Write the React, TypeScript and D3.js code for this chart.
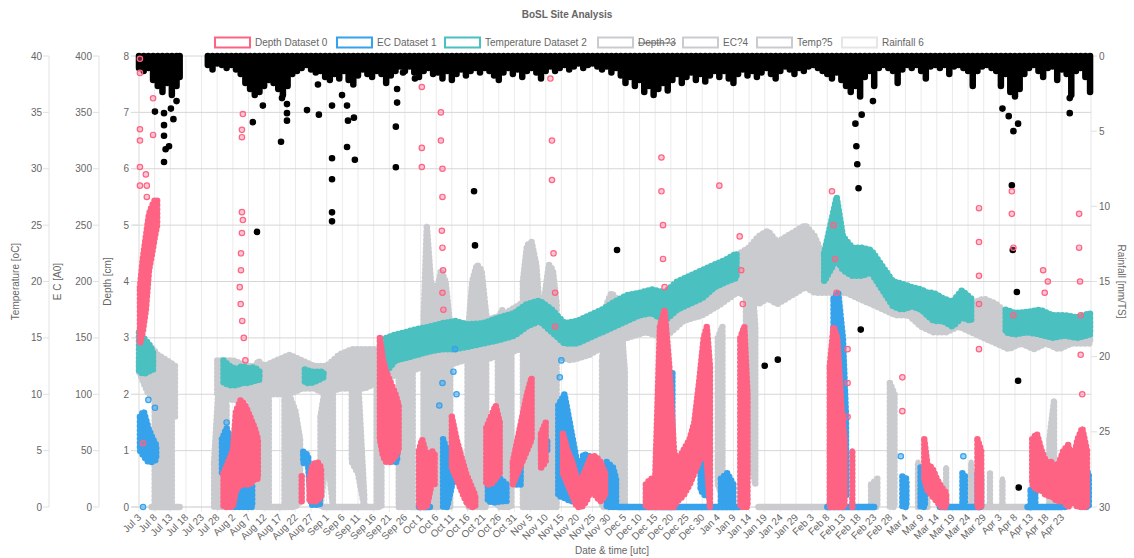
import React from "react";
import * as d3 from "d3";

// ---------- layout ----------
const W = 1134, H = 558;
const L = 139, R = 1091, T = 56, B = 507;
const DAY_MAX = 304.3;
const FONT = "Liberation Sans, Arial, Helvetica, sans-serif";

// ---------- labels ----------
const TITLE = "BoSL Site Analysis";
const X_TITLE = "Date & time [utc]";
const TICK_STEP_DAYS = 5;
const TICK_LABELS = [
  "Jul 3", "Jul 8", "Jul 13", "Jul 18", "Jul 23", "Jul 28",
  "Aug 2", "Aug 7", "Aug 12", "Aug 17", "Aug 22", "Aug 27",
  "Sep 1", "Sep 6", "Sep 11", "Sep 16", "Sep 21", "Sep 26",
  "Oct 1", "Oct 6", "Oct 11", "Oct 16", "Oct 21", "Oct 26", "Oct 31",
  "Nov 5", "Nov 10", "Nov 15", "Nov 20", "Nov 25", "Nov 30",
  "Dec 5", "Dec 10", "Dec 15", "Dec 20", "Dec 25", "Dec 30",
  "Jan 4", "Jan 9", "Jan 14", "Jan 19", "Jan 24", "Jan 29",
  "Feb 3", "Feb 8", "Feb 13", "Feb 18", "Feb 23", "Feb 28",
  "Mar 4", "Mar 9", "Mar 14", "Mar 19", "Mar 24", "Mar 29",
  "Apr 3", "Apr 8", "Apr 13", "Apr 18", "Apr 23",
];
const TEMP_TICKS = [0, 5, 10, 15, 20, 25, 30, 35, 40];
const EC_TICKS = [0, 50, 100, 150, 200, 250, 300, 350, 400];
const DEPTH_TICKS = [0, 1, 2, 3, 4, 5, 6, 7, 8];
const RAIN_TICKS = [0, 5, 10, 15, 20, 25, 30];

const LEGEND_LABELS = ["Depth Dataset 0", "EC Dataset 1", "Temperature Dataset 2", "Depth?3", "EC?4", "Temp?5", "Rainfall 6"];
const LEGEND_COLORS = ["#ff6384", "#36a2eb", "#4bc0c0", "#c9cbcf", "#c9cbcf", "#c9cbcf", "#e6e6e6"];
const LEGEND_HIDDEN = [false, false, false, true, false, false, false];
const LEGEND_X = [215, 337, 445, 598, 683, 757, 842];

// ---------- data (day offset from Jul 3, value) ----------
// Temperature Dataset 2 (degC) band: [day, low, high]
const TEMP_BAND: [number, number, number][] = [
  [0, 12, 15.5], [1.5, 11.8, 15], [3, 12, 14.5], [4.5, 12.2, 13.8],
  [27, 11, 13], [29, 10.8, 12.5], [31, 10.8, 12.2], [33, 11, 12.5], [35, 11, 12.3], [37, 11.2, 12.4], [38.5, 11.3, 12],
  [53, 11, 12.2], [55, 11, 12], [57, 11.2, 12], [59, 11.5, 12],
  [79, 12, 15], [82, 13, 15.3], [85, 13.2, 15.5], [89, 13.5, 15.8], [93, 13.8, 16], [97, 14, 16.3], [101, 14, 16.5],
  [105, 14.2, 16.2], [110, 14.5, 16.3], [115, 14.8, 16.8], [120, 15.2, 17.2], [124, 16, 18], [128, 16.5, 18.3],
  [132, 15.5, 17.5], [136, 14.5, 16.3], [140, 14.5, 16.5], [144, 15, 17], [148, 15.5, 17.5], [152, 16, 18.2],
  [156, 16.5, 18.8], [160, 17, 19], [164, 17.2, 19.3], [168, 16.5, 19], [172, 17.5, 20], [176, 18, 20.5],
  [180, 18.5, 21], [184, 19.5, 21.5], [188, 20, 22], [191, 20.3, 22.5],
  [219, 20, 22.5], [221, 21, 25], [223, 22, 27.5], [225, 21, 24], [228, 20.5, 23], [231, 20.5, 23], [234, 20.8, 22.8],
  [241, 17.8, 20], [244, 17.5, 19.8], [247, 17.8, 19.5], [250, 17.5, 19.3], [252, 17, 19],
  [254, 16.5, 19], [257, 16.5, 18.5], [260, 16, 18.2], [263, 16.8, 19.2], [266, 16.5, 18.5],
  [277, 15.5, 17.5], [280, 15.3, 17.2], [284, 15.5, 17.3], [288, 15.3, 17.5], [292, 15, 17], [296, 15.2, 17],
  [300, 15, 16.8], [304, 15.3, 17.2],
];

// Temp?5 (degC) band: [day, low, high]
const TEMP5_BAND: [number, number, number][] = [
  [0, 12, 13], [3, 10, 14.5], [6, 9.5, 13.5], [9, 8.5, 13], [11.5, 8, 12.5],
  [25, 10, 13], [30, 9.5, 13], [35, 9.5, 12.5], [40, 10, 12.5], [44, 10, 13], [48, 10, 13.5], [52, 10.5, 13],
  [56, 10.5, 12.5], [60, 10, 12.5], [64, 10.5, 13.5], [68, 10.5, 14], [72, 10.5, 14], [76, 11, 14], [78, 11, 14],
  [80, 11.5, 14.5], [86, 12, 15], [92, 12.5, 15.5], [98, 12.5, 15.8], [104, 13, 16], [110, 13, 16.5], [116, 13.5, 17],
  [122, 14, 18], [127, 15, 18.5], [132, 13.5, 17], [138, 13, 16], [144, 13.5, 16.5], [150, 14.5, 17.5], [156, 15, 18.5],
  [162, 15.5, 19], [168, 15, 19], [174, 16.5, 20], [180, 17, 20.5], [186, 18, 21.5], [191, 19, 22],
  [192, 19, 22.5], [195, 18.5, 23], [198, 18, 24], [201, 18.5, 24.5], [204, 18, 23.5], [207, 18.5, 24], [210, 19, 24.5],
  [213, 19.5, 25], [216, 19, 24], [219, 19, 22], [222, 19, 22], [226, 19, 22.5], [230, 18.5, 21.5], [234, 18, 21],
  [238, 17.5, 20], [242, 17, 19.5], [246, 17, 19], [250, 16, 19], [254, 15.5, 18.5], [258, 15.5, 18], [262, 16, 18.5],
  [266, 15.5, 18], [270, 15, 18.5], [274, 14.5, 18], [278, 14, 17], [282, 14.5, 16.5], [286, 14, 16.5], [290, 14.5, 16.5],
  [294, 14, 16], [298, 14.5, 16], [302, 14.5, 16], [304, 14.5, 16.3],
];

// EC?4 (EC) columns: [day, low, high]
const EC4_COLS: [number, number, number][] = [
  [5, 0, 120], [7, 0, 125], [9, 0, 110], [10.5, 0, 105],
  [24, 0, 40], [25.5, 0, 110], [27, 0, 120], [28, 0, 90],
  [36, 0, 110], [38, 0, 130], [40, 0, 125], [41.5, 0, 100],
  [46.5, 0, 95], [48, 0, 100], [50, 0, 85], [51.5, 5, 60],
  [58, 0, 80], [60, 50, 115], [62, 0, 100], [68, 40, 110], [70, 30, 115], [72, 0, 10],
  [76, 0, 135], [77.5, 0, 140],
  [83, 0, 140], [84.5, 0, 150], [86, 0, 145], [87.5, 0, 120],
  [91, 0, 170], [92, 0, 250], [93.3, 0, 200],
  [95.2, 0, 190], [96.5, 0, 210], [98, 0, 200], [99.5, 0, 160],
  [105, 0, 150], [106.5, 0, 200], [108, 0, 215], [109.5, 0, 210], [111, 0, 170],
  [114.7, 0, 165], [116, 0, 175], [117.5, 0, 170], [119, 0, 140],
  [122.7, 0, 200], [124, 0, 232], [125.5, 0, 235], [127, 0, 215], [128.2, 0, 170],
  [129.8, 0, 190], [131, 0, 215], [132.3, 0, 210], [133.5, 0, 180],
  [148, 0, 130], [149.5, 0, 180], [151, 0, 190], [152.5, 0, 185], [154, 0, 170], [155.3, 0, 120],
  [185, 20, 150], [186.5, 10, 160],
  [194, 30, 200], [195.5, 40, 220], [197, 20, 160],
  [234, 0, 20], [236, 0, 25], [240, 0, 110], [241.5, 0, 100],
  [249, 0, 40], [252, 0, 30], [258, 0, 35], [266, 0, 40], [272, 0, 30], [276, 0, 25],
  [291, 0, 60], [292.5, 0, 95],
];
// EC?4 zero runs: [dayStart, dayEnd, value]
const EC4_FLATS: [number, number, number][] = [
  [4, 13, 0], [40, 47, 0], [59, 76, 0], [87, 90, 0], [198, 221, 0], [270, 285, 0],
];

// Depth Dataset 0 (cm) dense clouds: [day, low, high]
const DEPTH_CLOUD: [number, number, number][] = [
  [0.3, 2.9, 3.9], [1.2, 3.1, 4.4], [2.2, 3.5, 4.8], [3.2, 4.2, 5.2], [4.2, 4.5, 5.35], [5.1, 4.8, 5.45], [5.8, 5.0, 5.45],
  [27, 0, 0.6], [28.5, 0, 0.8], [30, 0, 1.0], [31, 0.3, 1.7], [32.5, 0.4, 1.9], [34, 0.4, 1.8], [35.5, 0.4, 1.6], [37, 0.5, 1.4], [38, 0.5, 1.2],
  [52, 0.1, 0.55], [54.5, 0.1, 0.5], [55.5, 0.1, 0.75], [57, 0.1, 0.8], [58.2, 0.2, 0.7],
  [77, 1.2, 3.0], [78, 0.9, 2.6], [79, 0.8, 2.4], [80.5, 0.8, 2.2], [82, 0.9, 2.0], [83, 1.0, 1.8],
  [89.5, 0, 1.0], [90.5, 0, 1.2], [92, 0, 0.9], [93.5, 0.4, 1.0], [94.5, 0.4, 0.95],
  [100, 0.7, 1.6], [101.5, 0.5, 1.2], [103, 0.3, 0.9], [104.5, 0.1, 0.6], [106, 0, 0.4], [107.5, 0, 0.2],
  [111, 0.4, 1.4], [112.5, 0.4, 1.6], [114, 0.5, 1.8], [115.3, 0.6, 1.5],
  [119.5, 0.4, 0.8], [121, 0.6, 1.2], [122.5, 0.8, 1.6], [124, 1.0, 2.0], [125.5, 1.2, 2.3],
  [128.5, 0.7, 1.3], [130, 0.8, 1.5],
  [135.5, 0.6, 1.3], [137, 0.4, 1.0], [138.5, 0.2, 0.8], [140, 0, 0.5], [141.5, 0, 0.5], [143, 0.1, 0.7], [144.5, 0.3, 0.9],
  [146, 0.2, 0.9], [147.5, 0.1, 0.8], [149, 0.2, 0.6],
  [162, 0, 0.4], [163.5, 0, 0.5], [165, 0, 0.5], [166.5, 0, 3.2], [168, 0, 3.5], [169.5, 0, 2.5], [171, 0, 1.0],
  [172, 0.1, 0.8], [174, 0.2, 1.0], [176, 0.4, 1.2], [177.5, 0.6, 1.5], [179, 0.8, 2.2], [180.5, 1.0, 3.0], [181.5, 0.8, 3.2], [182.5, 0, 2.5],
  [192.2, 0, 3.0], [193.5, 0, 3.2], [194.5, 0, 2.0],
  [220.8, 0, 2.5], [222, 0, 3.2], [223.2, 0, 3.0], [224.5, 0, 1.8], [225.5, 0, 1.2],
  [228, 0, 1.0],
  [251, 0.5, 1.2], [252, 0.3, 0.75], [253.5, 0.2, 0.7], [255, 0.1, 0.5], [256.5, 0, 0.35], [258, 0, 0.25],
  [268, 0, 1.2], [269.2, 0, 1.0],
  [285.5, 0.4, 1.2], [287, 0.3, 1.3], [288.5, 0.3, 1.0], [290, 0.2, 0.8], [291.5, 0.2, 0.8], [293.5, 0.1, 0.7],
  [295.5, 0.1, 1.0], [297, 0, 1.1], [298.5, 0.1, 0.8], [300, 0, 1.2], [301.5, 0, 1.4], [303, 0, 1.0],
];
// Depth Dataset 0 (cm) sparse points: [day, value]
const DEPTH_PTS: [number, number][] = [
  [0.3, 7.95], [0.3, 7.7], [4.5, 7.25], [4.5, 6.6], [0.3, 6.7], [0.3, 6.5], [0.3, 6.03], [2.2, 5.9], [0.3, 5.7],
  [2.5, 5.7], [2.5, 5.5], [1.3, 1.13],
  [33.2, 6.97], [32.9, 6.69], [32.9, 6.56], [32.9, 5.23], [32.9, 4.86], [33.2, 5.09], [32.6, 4.5], [32.6, 4.2],
  [32.2, 3.9], [32.5, 3.6], [33, 3.3], [33.5, 3.0], [34, 2.6],
  [90.4, 7.45], [90.4, 6.37], [90.4, 6.03],
  [96.5, 7.0], [96.5, 6.5], [97, 6.0], [97, 5.5], [96.8, 4.9], [97, 4.6], [97.2, 4.2], [97, 3.8], [97.3, 3.5],
  [131.5, 7.6], [132, 6.5], [132, 5.8], [132.5, 4.5], [133, 3.8], [133, 3.2],
  [167, 6.2], [167, 5.6], [167.5, 5.0], [167.5, 4.4], [168, 3.9],
  [185.5, 5.7], [192, 4.8], [192.5, 4.2], [193, 3.6],
  [221.5, 5.6], [222, 5.0], [222.5, 4.4], [223, 3.8], [226.5, 2.8], [226.5, 2.2], [226.5, 1.6],
  [244, 2.3], [244, 1.7], [268.5, 5.3], [268.5, 4.7], [268.5, 4.1], [268.5, 3.6], [268.5, 2.8],
  [279, 5.6], [279, 5.2], [279.5, 4.6], [279.5, 3.4], [289, 4.2], [289.5, 3.8], [290.5, 4.0],
  [300.5, 5.2], [300.5, 4.6], [300.8, 4.0], [301, 3.4], [301, 2.7], [301.5, 2.0],
];

// EC Dataset 1 (EC) dense clouds: [day, low, high]
const EC_CLOUD: [number, number, number][] = [
  [0.3, 50, 80], [1.5, 45, 85], [3, 40, 70], [4.5, 40, 60], [5.5, 42, 55],
  [26.5, 30, 60], [28, 25, 70], [29.5, 15, 55], [30.5, 0, 35], [32, 0, 30], [33.5, 0, 28], [35, 0, 25], [36.2, 0, 20],
  [52.5, 39, 49], [54, 38, 46], [55, 2, 15], [56.5, 2, 12], [57.8, 2, 8],
  [78, 50, 100], [79.5, 45, 90], [81, 40, 80], [82.5, 40, 70],
  [97.2, 0, 60], [98.5, 0, 50], [100.5, 25, 53], [102, 24, 50],
  [111.5, 5, 27], [113.5, 4, 26], [115.5, 5, 25], [117.5, 5, 20],
  [120.5, 20, 39], [122, 20, 38], [128.5, 50, 60], [130.5, 50, 60],
  [134, 10, 90], [136, 8, 100], [138, 5, 70], [140, 5, 40], [141.5, 8, 35], [142, 15, 47], [144, 15, 45], [145.5, 18, 40],
  [149.5, 0, 40], [151.5, 0, 35], [152.5, 0, 25],
  [166.5, 0, 45], [168, 0, 40], [169.5, 0, 45], [170.5, 0, 120],
  [179.5, 15, 60], [181, 10, 55], [182, 10, 50],
  [186, 0, 25], [188, 0, 30], [190, 0, 20], [192.8, 40, 140],
  [222, 100, 185], [223.5, 95, 190], [225, 60, 150], [226, 10, 80],
  [244, 0, 27], [245.3, 0, 25], [249.8, 0, 35], [251.2, 0, 30],
  [263.2, 2, 30], [264, 2, 28], [268, 0, 30], [269.2, 0, 28],
  [285, 0, 15], [286.5, 0, 15], [295, 0, 22], [296.5, 0, 20],
  [300.8, 0, 33], [302.2, 0, 33], [303.6, 0, 30],
];
const EC_FLATS: [number, number, number][] = [
  [89.5, 93, 0], [153, 192, 0], [220, 235, 0], [256, 269, 0], [284, 295, 0],
];
const EC_PTS: [number, number][] = [
  [1.3, 0], [3, 95], [5.1, 88], [28, 75], [96, 90], [97, 110], [100.5, 70], [100.5, 120], [101, 140], [101.5, 100],
  [134.5, 115], [135, 130], [167, 70], [167.5, 90], [193, 155], [243.5, 45], [263.5, 45],
];

// Rainfall 6 (mm/TS): dense top band [day, depth of band]
const RAIN_BAND: [number, number][] = [
  [0, 0.8], [1.5, 1.0], [3, 0.8], [4.5, 1.6], [6, 2.0], [7.5, 2.4], [9, 1.8], [10.5, 2.6], [12, 2.0], [13, 1.4],
  [22, 0.6], [23.5, 0.9], [25, 0.5], [26.5, 0.6], [28, 0.8], [29.5, 0.6],
  [31, 0.9], [32.5, 1.2], [34, 1.8], [35.5, 2.2], [37, 2.6], [38.5, 2.4], [40, 2.0], [41.5, 1.6],
  [43, 1.8], [44.5, 2.2], [46, 2.6], [47.5, 2.0], [49, 1.2], [50.5, 1.0],
  [52, 0.8], [53.5, 0.6], [55, 0.9], [56.5, 1.1], [58, 1.0], [59.5, 1.4],
  [61, 1.6], [62.5, 1.2], [64, 1.5], [65.5, 1.0], [67, 1.6], [68.5, 1.9], [70, 1.3], [71.5, 0.9], [73, 1.2], [74.5, 1.4],
  [76, 1.0], [77.5, 1.2], [79, 1.8], [80.5, 1.3], [82, 1.0], [83.5, 0.7], [85, 1.0], [86.5, 0.7], [88, 1.1], [89.5, 1.4],
  [91, 1.0], [92.5, 0.8], [94, 1.2], [95.5, 1.1], [97, 1.5], [98.5, 1.0], [100, 1.6], [101.5, 1.2], [103, 0.9],
  [104.5, 1.3], [106, 1.0], [107.5, 0.8], [109, 1.1], [110.5, 0.8], [112, 1.0], [113.5, 1.3], [115, 1.6], [116.5, 1.1],
  [118, 0.8], [119.5, 1.2], [121, 0.9], [122.5, 1.4], [124, 1.0], [125.5, 0.8], [127, 1.1], [128.5, 1.5], [130, 1.0],
  [131.5, 0.7], [133, 1.0], [134.5, 0.8], [136, 0.6], [137.5, 0.9], [139, 0.7], [140.5, 0.5], [142, 0.8], [143.5, 0.6],
  [145, 0.5], [146.5, 0.7], [148, 0.9], [149.5, 0.7], [151, 1.1], [152.5, 0.8], [154, 1.3], [155.5, 1.8], [157, 1.4],
  [158.5, 2.0], [160, 1.6], [161.5, 2.4], [163, 2.0], [164.5, 2.6], [166, 2.2], [167.5, 1.8], [169, 2.3], [170.5, 1.6],
  [172, 1.2], [173.5, 1.8], [175, 1.4], [176.5, 1.1], [178, 1.6], [179.5, 1.2], [181, 1.7], [182.5, 1.3], [184, 1.0],
  [185.5, 1.4], [187, 1.0], [188.5, 1.5], [190, 1.8], [191.5, 1.2], [193, 0.9], [194.5, 1.3], [196, 1.0], [197.5, 1.4],
  [199, 1.1], [200.5, 0.8], [202, 1.2], [203.5, 1.5], [205, 1.0], [206.5, 0.7], [208, 0.9], [209.5, 1.2], [211, 0.8],
  [212.5, 1.0], [214, 0.7], [215.5, 0.6], [217, 0.8], [218.5, 1.0], [220, 1.2], [221.5, 1.5], [223, 1.1], [224.5, 1.6],
  [226, 2.0], [227.5, 2.4], [229, 2.0], [230.5, 2.7], [232, 1.4], [233.5, 1.0], [235, 2.0], [236.5, 0.8], [238, 0.6],
  [239.5, 0.8], [241, 1.0], [242.5, 1.8], [244, 0.9], [245.5, 0.6], [247, 0.8], [248.5, 0.6], [250, 1.0], [251.5, 1.5],
  [253, 0.7], [254.5, 0.6], [256, 0.8], [257.5, 0.6], [259, 1.2], [260.5, 0.7], [262, 0.6], [263.5, 0.8], [265, 1.0],
  [266.5, 2.0], [268, 1.0], [269.5, 0.7], [271, 0.6], [272.5, 0.8], [274, 1.0], [275.5, 2.0], [277, 1.2], [278.5, 2.4],
  [280, 2.7], [281.5, 2.2], [283, 1.2], [284.5, 0.8], [286, 0.6], [287.5, 1.0], [289, 1.4], [290.5, 0.8], [292, 0.7],
  [293.5, 1.6], [295, 0.9], [296.5, 1.2], [298, 2.6], [299.5, 1.0], [301, 0.8], [302.5, 1.4], [304, 2.4],
];
// Rainfall 6 (mm/TS) isolated points: [day, value]
const RAIN_PTS: [number, number][] = [
  [5.1, 3.7], [8, 3.8], [8, 4.6], [8, 5.3], [8.5, 6.2], [9.6, 6.0], [10.2, 3.5], [8, 7.05], [11, 4.2], [12, 3.0],
  [39.6, 3.3], [36.4, 4.4], [37.7, 11.7], [45.4, 5.7], [45.7, 2.8], [47.3, 3.2], [47.3, 3.8], [47.3, 4.3],
  [53.7, 3.6], [57.5, 3.9], [57.2, 1.9], [61.7, 3.3], [61.7, 6.8], [61.7, 8.2], [61.7, 10.4], [61.7, 11.0],
  [66.5, 3.3], [66.5, 6.05], [66.8, 4.3], [68.7, 4.1], [69, 6.9], [64.9, 2.6],
  [82.1, 4.7], [82.1, 7.4], [82.5, 2.2], [82.5, 3.1], [84.4, 1.1], [88.2, 1.5],
  [107.1, 9.0], [107.4, 12.6], [152.8, 12.9], [200, 20.6], [204.2, 20.2], [230.7, 18.2],
  [229, 4.5], [229.3, 6.0], [229.6, 7.2], [230, 8.8],
  [231, 3.9], [234.6, 3.0], [276, 3.5], [278, 4.0], [279.5, 5.0], [281, 4.5],
  [279, 8.6], [279.3, 12.9], [280.6, 15.7], [281, 21.6], [281.2, 28.7],
  [297.5, 2.8], [297.5, 3.8],
];

// ---------- helpers ----------
type Rng = [number, number, number];
function splitRuns(arr: Rng[], gap: number): Rng[][] {
  const out: Rng[][] = [];
  let cur: Rng[] = [];
  for (const d of arr) {
    if (cur.length && d[0] - cur[cur.length - 1][0] > gap) {
      out.push(cur);
      cur = [];
    }
    cur.push(d);
  }
  if (cur.length) out.push(cur);
  return out;
}

export default function App() {
  const x = d3.scaleLinear().domain([0, DAY_MAX]).range([L, R]);
  const yDepth = d3.scaleLinear().domain([0, 8]).range([B, T]);
  const yEC = d3.scaleLinear().domain([0, 400]).range([B, T]);
  const yTemp = d3.scaleLinear().domain([0, 40]).range([B, T]);
  const yRain = d3.scaleLinear().domain([0, 30]).range([T, B]);

  // dense point clouds: filled area whose outline is a chain of round dots
  const cloud = (data: Rng[], y: d3.ScaleLinear<number, number>, color: string, gap: number, key = "") => {
    const area = d3.area<Rng>().x(d => x(d[0])).y0(d => y(d[1])).y1(d => y(d[2]));
    return splitRuns(data, gap).map((run, i) => {
      if (run.length > 1) {
        const d = area(run) || "";
        return (
          <g key={key + i}>
            <path d={d} fill={color} stroke={color} strokeWidth={3} strokeLinejoin="round" />
            <path d={d} fill="none" stroke={color} strokeWidth={6.5} strokeLinecap="round" strokeDasharray="0 4.2" />
          </g>
        );
      }
      const r = run[0];
      return (
        <g key={key + i}>
          <line x1={x(r[0])} x2={x(r[0])} y1={y(r[1])} y2={y(r[2])} stroke={color} strokeWidth={5} strokeLinecap="round" />
          <line x1={x(r[0])} x2={x(r[0])} y1={y(r[1])} y2={y(r[2])} stroke={color} strokeWidth={6.5} strokeLinecap="round" strokeDasharray="0 4.2" />
        </g>
      );
    });
  };
  const flats = (data: Rng[], y: d3.ScaleLinear<number, number>, color: string, key: string) =>
    data.map((d, i) => (
      <line key={key + i} x1={x(d[0])} x2={x(d[1])} y1={y(d[2])} y2={y(d[2])} stroke={color} strokeWidth={6.5} strokeLinecap="round" />
    ));
  const pts = (data: [number, number][], y: d3.ScaleLinear<number, number>, stroke: string, fill: string, key: string) =>
    data.map((d, i) => (
      <circle key={key + i} cx={x(d[0])} cy={y(d[1])} r={2.7} fill={fill} stroke={stroke} strokeWidth={1.2} />
    ));

  const PINK = "#ff6384", BLUE = "#36a2eb", TEAL = "#4bc0c0", GRAY = "#c9cbcf";

  const leftAxes = [
    { ticks: TEMP_TICKS, y: yTemp, lineX: 49, labelX: 42, title: "Temperature [oC]", titleX: 16 },
    { ticks: EC_TICKS, y: yEC, lineX: 99, labelX: 92, title: "E C [A0]", titleX: 58 },
    { ticks: DEPTH_TICKS, y: yDepth, lineX: L, labelX: 129, title: "Depth [cm]", titleX: 108 },
  ];
  const midY = (T + B) / 2;

  return (
    <svg width={W} height={H} style={{ position: "absolute", left: 0, top: 0, background: "#fff" }} fontFamily={FONT}>
      {/* title */}
      <text x={567} y={18} textAnchor="middle" fontSize={10} fontWeight="bold" fill="#666">{TITLE}</text>

      {/* legend */}
      {LEGEND_LABELS.map((lab, i) => (
        <g key={"lg" + i}>
          <rect x={LEGEND_X[i]} y={37.5} width={35} height={10} fill="#fff" stroke={LEGEND_COLORS[i]} strokeWidth={2} />
          <text x={LEGEND_X[i] + 40} y={46} fontSize={10} fill="#666" textDecoration={LEGEND_HIDDEN[i] ? "line-through" : undefined}>{lab}</text>
        </g>
      ))}

      {/* vertical grid */}
      {TICK_LABELS.map((_, i) => (
        <line key={"vg" + i} x1={x(i * TICK_STEP_DAYS)} x2={x(i * TICK_STEP_DAYS)} y1={T} y2={B + 5} stroke="#ebebeb" strokeWidth={1} />
      ))}
      <line x1={R} x2={R} y1={T} y2={B} stroke="#e6e6e6" />
      {/* horizontal grid (depth) */}
      {DEPTH_TICKS.map(t => (
        <line key={"hg" + t} x1={L - 8} x2={R} y1={yDepth(t)} y2={yDepth(t)} stroke={t === 0 ? "#c8c8c8" : "#d6d6d6"} strokeWidth={1} />
      ))}

      {/* left axes */}
      {leftAxes.map((a, k) => (
        <g key={"ax" + k}>
          <line x1={a.lineX} x2={a.lineX} y1={T} y2={B} stroke="#e3e3e3" />
          {a.ticks.map(t => (
            <g key={t}>
              <line x1={a.lineX - 6} x2={a.lineX} y1={a.y(t)} y2={a.y(t)} stroke="#e0e0e0" />
              <text x={a.labelX} y={a.y(t) + 3.5} textAnchor="end" fontSize={10} fill="#666">{t}</text>
            </g>
          ))}
          <text transform={`translate(${a.titleX},${midY}) rotate(-90)`} textAnchor="middle" dominantBaseline="middle" fontSize={10} fill="#666">{a.title}</text>
        </g>
      ))}

      {/* right axis */}
      {RAIN_TICKS.map(t => (
        <g key={"ra" + t}>
          <line x1={R} x2={R + 6} y1={yRain(t)} y2={yRain(t)} stroke="#e0e0e0" />
          <text x={R + 8} y={yRain(t) + 3.5} fontSize={10} fill="#666">{t}</text>
        </g>
      ))}
      <text transform={`translate(1121,${midY}) rotate(90)`} textAnchor="middle" dominantBaseline="middle" fontSize={10} fill="#666">Rainfall [mm/TS]</text>

      {/* x tick labels */}
      {TICK_LABELS.map((lab, i) => (
        <text key={"xl" + i} transform={`translate(${x(i * TICK_STEP_DAYS) + 3},${B + 11}) rotate(-45)`} textAnchor="end" fontSize={10} fill="#666">{lab}</text>
      ))}
      <text x={612} y={554} textAnchor="middle" fontSize={10} fill="#666">{X_TITLE}</text>

      {/* data: drawn last dataset first */}
      <g>
        {RAIN_BAND.map((d, i) => (
          <line key={"rb" + i} x1={x(d[0])} x2={x(d[0])} y1={yRain(0)} y2={yRain(d[1])} stroke="#000" strokeWidth={6.5} strokeLinecap="round" />
        ))}
        {pts(RAIN_PTS, yRain, "#000", "#000", "rp")}
      </g>
      <g>{cloud(TEMP5_BAND, yTemp, GRAY, 7, "t5")}</g>
      <g>
        {cloud(EC4_COLS, yEC, GRAY, 2.2, "e4")}
        {flats(EC4_FLATS, yEC, GRAY, "e4f")}
      </g>
      <g>{cloud(TEMP_BAND, yTemp, TEAL, 7, "tt")}</g>
      <g>
        {flats(EC_FLATS, yEC, BLUE, "ecf")}
        {cloud(EC_CLOUD, yEC, BLUE, 2.2, "ec")}
        {pts(EC_PTS, yEC, BLUE, "rgba(54,162,235,0.5)", "ep")}
      </g>
      <g>
        {cloud(DEPTH_CLOUD, yDepth, PINK, 2.2, "dc")}
        {pts(DEPTH_PTS, yDepth, PINK, "rgba(255,99,132,0.35)", "dp")}
      </g>
    </svg>
  );
}
